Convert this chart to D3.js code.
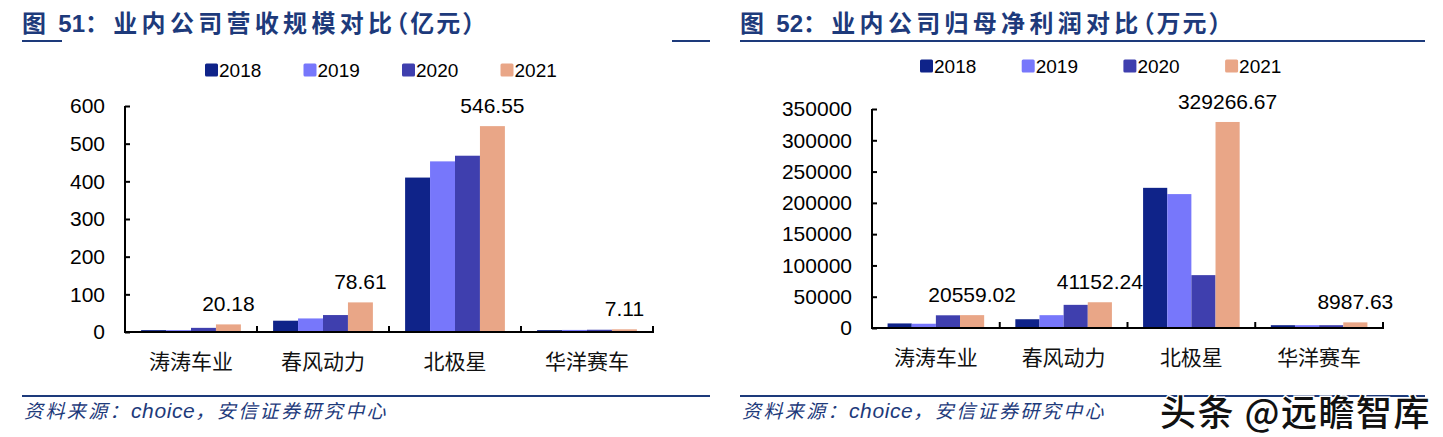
<!DOCTYPE html>
<html>
<head>
<meta charset="utf-8">
<script src="https://cdn.jsdelivr.net/npm/d3@7/dist/d3.min.js"></script>
<style>
  html, body { margin: 0; padding: 0; background: #fff; }
  svg { display: block; font-family: "Liberation Sans", Arial, "Noto Sans CJK SC", sans-serif; }
  .halt { font-feature-settings: "halt"; }
</style>
</head>
<body>
<svg id="chart" width="1443" height="437"></svg>
<script>
// ---------- data ----------
const categories = ["涛涛车业", "春风动力", "北极星", "华洋赛车"];
const years = ["2018", "2019", "2020", "2021"];

// 营收 (亿元)
const revenue2018 = [5, 30, 410, 5];
const revenue2019 = [5, 36, 453, 5.5];
const revenue2020 = [11, 45, 468, 6];
const revenue2021 = [20.18, 78.61, 546.55, 7.11];
const revenueTicks = [0, 100, 200, 300, 400, 500, 600];

// 归母净利润 (万元)
const profit2018 = [7300, 14000, 224000, 4500];
const profit2019 = [6800, 20500, 214000, 4500];
const profit2020 = [20300, 37000, 84500, 4500];
const profit2021 = [20559.02, 41152.24, 329266.67, 8987.63];
const profitTicks = [0, 50000, 100000, 150000, 200000, 250000, 300000, 350000];

// title pieces: [prefix, number, body, unit]
const titleLeft = ["图", "51", "：业内公司营收规模对比", "（亿元）"];
const titleRight = ["图", "52", "：业内公司归母净利润对比", "（万元）"];
const sourceParts = ["资料来源：", "choice", "，安信证券研究中心"];
const watermark = "头条 @远瞻智库";

const colors = ["#0f2389", "#7777fb", "#3f3fae", "#e9a687"];
const navy = "#1d3a7b";

const svg = d3.select("#chart");

function drawChart(o) {
  const g = svg.append("g");
  const series = o.series;
  const y = d3.scaleLinear().domain([0, o.ticks[o.ticks.length - 1]]).range([o.y0, o.yTop]);
  const x = d3.scaleBand().domain(categories).range([o.xLeft, o.xRight]).padding(0);
  const bw = x.bandwidth();
  const xi = d3.scaleBand().domain(years).range([bw * 0.122, bw * 0.878]).padding(0);

  // bars
  categories.forEach((c, ci) => {
    years.forEach((yr, yi) => {
      const v = series[yi][ci];
      g.append("rect")
        .attr("x", x(c) + xi(yr))
        .attr("y", y(v))
        .attr("width", xi.bandwidth())
        .attr("height", o.y0 - y(v))
        .attr("fill", colors[yi]);
    });
    const v21 = series[3][ci];
    g.append("text")
      .attr("x", x(c) + xi("2021") + xi.bandwidth() / 2)
      .attr("y", y(v21) - 13)
      .attr("text-anchor", "middle")
      .attr("font-size", 21)
      .attr("fill", "#000")
      .text(String(v21));
  });

  // y axis
  const yAxis = d3.axisLeft(y).tickValues(o.ticks).tickSize(-5).tickPadding(20).tickFormat(d3.format("d"));
  const ya = g.append("g").attr("transform", `translate(${o.xLeft},0)`).call(yAxis);
  ya.select(".domain").attr("stroke", "#000").attr("stroke-width", 2).attr("d", `M0,${o.y0}V${o.yTop}`);
  ya.selectAll(".tick line").attr("stroke", "#000").attr("stroke-width", 2);
  ya.selectAll(".tick text").attr("font-size", 21).attr("fill", "#000")
    .attr("font-family", "'Liberation Sans', Arial, sans-serif");

  // x axis
  const xa = g.append("g").attr("transform", `translate(0,${o.y0})`);
  xa.append("line").attr("x1", o.xLeft - 1).attr("x2", o.xRight + 1).attr("y1", 0).attr("y2", 0)
    .attr("stroke", "#000").attr("stroke-width", 2);
  const bounds = categories.map(c => x(c)).concat([o.xRight]);
  bounds.forEach(b => {
    xa.append("line").attr("x1", b).attr("x2", b).attr("y1", 0).attr("y2", -6)
      .attr("stroke", "#000").attr("stroke-width", 2);
  });
  categories.forEach(c => {
    xa.append("text")
      .attr("x", x(c) + bw / 2)
      .attr("y", o.catDy)
      .attr("text-anchor", "middle")
      .attr("font-size", 21)
      .attr("font-family", "'Noto Sans CJK SC', sans-serif")
      .attr("fill", "#111")
      .text(c);
  });

  // legend
  years.forEach((yr, i) => {
    const lx = o.legendX + i * o.legendStep;
    g.append("rect").attr("x", lx).attr("y", o.legendY - 6.5).attr("width", 13).attr("height", 13)
      .attr("fill", colors[i]).attr("rx", 1.5);
    g.append("text").attr("x", lx + 14).attr("y", o.legendY + 7)
      .attr("font-size", 19).attr("fill", "#000").text(yr);
  });

  // title
  const t = g.append("text")
    .attr("x", o.titleX).attr("y", 32)
    .attr("font-size", 24).attr("font-weight", "bold")
    .attr("fill", navy)
    .attr("font-family", "'Liberation Sans', 'Noto Sans CJK SC', sans-serif");
  t.append("tspan").attr("letter-spacing", 4.3).text(o.title[0]);
  t.append("tspan").attr("dx", 8).attr("letter-spacing", 0).text(o.title[1]);
  t.append("tspan").attr("letter-spacing", 4.3).text(o.title[2]);
  t.append("tspan").attr("class", "halt").attr("letter-spacing", 2).text(o.title[3]);

  o.titleLines.forEach(seg => {
    g.append("line").attr("x1", seg[0]).attr("x2", seg[1]).attr("y1", 41).attr("y2", 41)
      .attr("stroke", navy).attr("stroke-width", 2.2);
  });

  // bottom rule
  g.append("line").attr("x1", o.ruleX[0]).attr("x2", o.ruleX[1]).attr("y1", 396).attr("y2", 396)
    .attr("stroke", navy).attr("stroke-width", 2.2);

  // source
  const s = g.append("text").attr("x", o.titleX + 2).attr("y", 418)
    .attr("font-size", 19).attr("font-style", "italic")
    .attr("fill", navy);
  s.append("tspan").attr("letter-spacing", 2.4).text(sourceParts[0]);
  s.append("tspan").attr("font-size", 21).attr("letter-spacing", 0.6).text(sourceParts[1]);
  s.append("tspan").attr("letter-spacing", 2.4).text(sourceParts[2]);
}

drawChart({
  series: [revenue2018, revenue2019, revenue2020, revenue2021],
  ticks: revenueTicks,
  y0: 332, yTop: 106,
  xLeft: 125, xRight: 653,
  catDy: 37,
  legendX: 205, legendStep: 98.5, legendY: 70,
  title: titleLeft, titleX: 22,
  titleLines: [[22, 62], [672, 710]],
  ruleX: [22, 710]
});

drawChart({
  series: [profit2018, profit2019, profit2020, profit2021],
  ticks: profitTicks,
  y0: 328, yTop: 109,
  xLeft: 872, xRight: 1383,
  catDy: 37,
  legendX: 920, legendStep: 101.7, legendY: 66,
  title: titleRight, titleX: 740,
  titleLines: [[740, 1425]],
  ruleX: [740, 1425]
});

// watermark
svg.append("text")
  .attr("x", 1160).attr("y", 426)
  .attr("font-size", 36)
  .attr("font-weight", 500)
  .attr("letter-spacing", 1.5)
  .attr("font-family", "'Noto Sans CJK SC', sans-serif")
  .attr("fill", "#111")
  .attr("stroke", "#fff").attr("stroke-width", 3)
  .attr("paint-order", "stroke")
  .text(watermark);
</script>
</body>
</html>
